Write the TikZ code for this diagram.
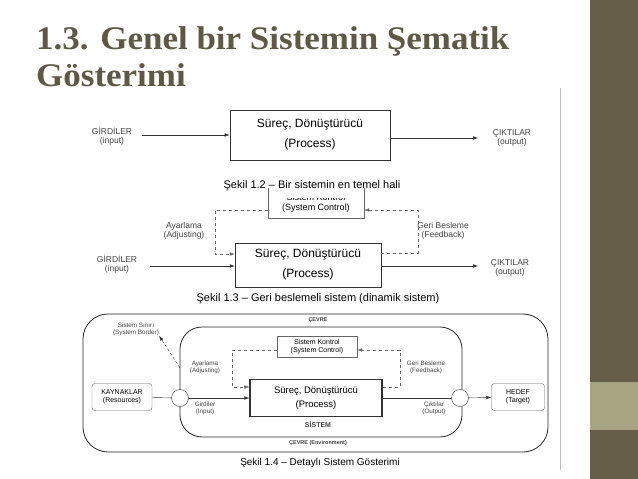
\documentclass[tikz,border=0pt]{standalone}
\usepackage{fontspec}
\setmainfont{Liberation Sans}
\newfontfamily\titlefont{Liberation Serif}
\usetikzlibrary{arrows.meta}
\definecolor{olive}{HTML}{655D48}
\definecolor{lolive}{HTML}{A8A583}
\definecolor{ttl}{HTML}{5E5845}
\tikzset{x=1pt,y=-1pt,
 lbl/.style={font=\fontsize{8.5}{9.5}\selectfont,align=center,text=black!75,inner sep=0},
 sml/.style={font=\fontsize{6.3}{7.2}\selectfont,align=center,text=black!75,inner sep=0},
 proc/.style={draw=black!80,thick,align=center,inner sep=0,font=\fontsize{12}{20}\selectfont},
 arr/.style={-{Latex[length=5pt,width=3.5pt]},black!80},
 darr/.style={arr,dashed,black!60},
 captxt/.style={font=\fontsize{11}{12}\selectfont,inner sep=0}}
\begin{document}
\begin{tikzpicture}
\useasboundingbox (0,0) rectangle (638,479);
\fill[olive] (590,0) rectangle (638,479);
\fill[lolive] (590,382) rectangle (638,430);
\draw[black!25] (560,88) -- (560,470);
\node[anchor=west,text=ttl,font=\titlefont\bfseries\fontsize{33}{37}\selectfont,align=left,inner sep=0,xscale=1.06] (title) at (36,57) {1.3. Genel bir Sistemin Şematik\\Gösterimi};
% Fig 1.2
\node[proc,minimum width=160,minimum height=50] (p1) at (310,135) {Süreç, Dönüştürücü\\(Process)};
\node[lbl] (in1) at (112,136) {GİRDİLER\\(input)};
\node[lbl] (out1) at (512,138) {ÇIKTILAR\\(output)};
\coordinate (a1) at (142,135);
\coordinate (b1) at (478,138);
\draw[arr] (a1) -- (p1.west);
\draw[arr] (p1.east|-b1) -- (b1);
\node[captxt] (c1) at (312,186) {Şekil 1.2 – Bir sistemin en temel hali};
% Fig 1.3
\begin{scope}
\clip (250,198) rectangle (380,230);
\node[draw=black!60,minimum width=96,minimum height=30,align=center,inner sep=0,font=\fontsize{9}{10.5}\selectfont] (sc2) at (316,203) {Sistem Kontrol\\(System Control)};
\end{scope}
\draw[black!60] (sc2.north west) -- (sc2.south west) -- (sc2.south east) -- (sc2.north east);
\node[proc,thin,minimum width=146,minimum height=44] (p2) at (308,265) {Süreç, Dönüştürücü\\(Process)};
\coordinate (l2) at (215,210);
\coordinate (r2) at (418,210);
\draw[darr] (sc2.west|-l2) -- (l2) -- (215,254) -- (p2.west|-0,254);
\draw[darr] (p2.east|-0,253) -- (418,253) -- (r2) -- (sc2.east|-r2);
\node[lbl] (adj2) at (184,231) {Ayarlama\\(Adjusting)};
\node[lbl] (fb2) at (443,231) {Geri Besleme\\(Feedback)};
\node[lbl] (in2) at (117,264) {GİRDİLER\\(input)};
\node[lbl] (out2) at (510,268) {ÇIKTILAR\\(output)};
\coordinate (a2) at (150,266);
\coordinate (b2) at (478,266);
\draw[arr] (a2) -- (p2.west|-a2);
\draw[arr] (p2.east|-b2) -- (b2);
\node[captxt] (c2) at (318,299) {Şekil 1.3 – Geri beslemeli sistem (dinamik sistem)};
% Fig 1.4
\draw[black!85,thick,rounded corners=25] (83,314) rectangle (548,452);
\draw[black!85,thick,rounded corners=22] (180,327) rectangle (462,437);
\node[sml,font=\bfseries\fontsize{5.5}{6}\selectfont] (cev) at (318,320) {ÇEVRE};
\node[sml,font=\bfseries\fontsize{5.5}{6}\selectfont] (cev2) at (318,443) {ÇEVRE (Environment)};
\node[sml] (ss) at (136,329) {Sistem Sınırı\\(System Border)};
\coordinate (sb) at (180,368);
\draw[arr,densely dashed] (sb) -- (ss.south east);
\node[draw=black!60,minimum width=80,minimum height=21,align=center,inner sep=0,font=\fontsize{7}{8.2}\selectfont] (sc4) at (317,347) {Sistem Kontrol\\(System Control)};
\node[proc,very thick,minimum width=132,minimum height=37,font=\fontsize{9.5}{14}\selectfont] (p4) at (316,398) {Süreç, Dönüştürücü\\(Process)};
\node[sml,font=\bfseries\fontsize{7}{8}\selectfont] (sis) at (318,425) {SİSTEM};
\node[draw=black!60,rounded corners=3,minimum width=60,minimum height=27,align=center,inner sep=0,font=\fontsize{7}{8.2}\selectfont] (kay) at (122,397) {KAYNAKLAR\\(Resources)};
\node[draw=black!60,rounded corners=3,minimum width=53,minimum height=27,align=center,inner sep=0,font=\fontsize{7}{8.2}\selectfont] (hed) at (518,397) {HEDEF\\(Target)};
\node[draw=black!80,fill=white,circle,minimum size=17,inner sep=0] (ci) at (180,398) {};
\node[draw=black!80,fill=white,circle,minimum size=17,inner sep=0] (co) at (460,398) {};
\draw[black!80] (kay) -- (ci);
\draw[arr] (ci) -- (p4.west|-ci);
\draw[black!80] (p4.east|-co) -- (co);
\draw[arr] (co) -- (hed);
\coordinate (l4) at (232,350);
\coordinate (r4) at (400,350);
\draw[darr] (sc4.west|-l4) -- (l4) -- (232,387) -- (p4.west|-0,387);
\draw[darr] (p4.east|-0,387) -- (400,387) -- (r4) -- (sc4.east|-r4);
\node[sml] (adj4) at (205,367) {Ayarlama\\(Adjusting)};
\node[sml] (gir4) at (205,408) {Girdiler\\(Input)};
\node[sml] (fb4) at (426,367) {Geri Besleme\\(Feedback)};
\node[sml] (cik4) at (434,408) {Çıktılar\\(Output)};
\node[captxt,font=\fontsize{10}{11}\selectfont] (c4) at (320,463) {Şekil 1.4 – Detaylı Sistem Gösterimi};
\end{tikzpicture}
\end{document}
